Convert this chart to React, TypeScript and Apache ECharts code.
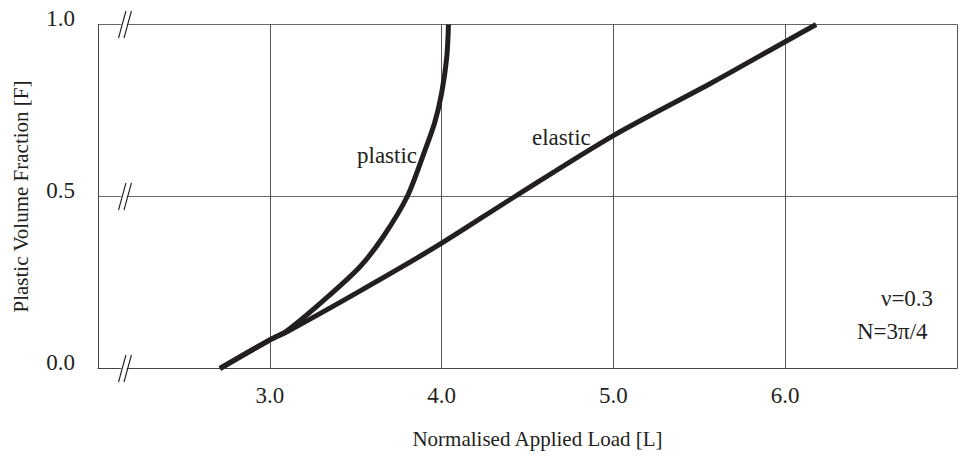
import React, { useEffect, useRef } from "react";
import * as echarts from "echarts";

const xTickValues = [3, 4, 5, 6];
const yTickValues = [0, 0.5, 1];
const elasticX = [2.71, 3.0, 3.1, 3.506, 3.967, 4.427, 5.0, 5.578, 6.0, 6.18];
const elasticY = [0, 0.083, 0.107, 0.22, 0.354, 0.5, 0.677, 0.832, 0.95, 1.0];
const plasticX = [2.71, 3.0, 3.1, 3.315, 3.525, 3.66, 3.8, 3.9, 3.96, 4.0, 4.03, 4.04];
const plasticY = [0, 0.083, 0.11, 0.199, 0.296, 0.383, 0.5, 0.63, 0.715, 0.8, 0.905, 1.0];
const xTitle = "Normalised Applied Load [L]";
const yTitle = "Plastic Volume Fraction [F]";
const plasticLabel = "plastic";
const elasticLabel = "elastic";
const noteLines = ["ν=0.3", "N=3π/4"];

const FONT = '"Liberation Serif", "Times New Roman", serif';
const TXT = "#231f20";
const LINE = "#231f20";

export default function App() {
  const ref = useRef<HTMLDivElement>(null);
  useEffect(() => {
    document.body.style.margin = "0";
    const chart = echarts.init(ref.current!, undefined, { renderer: "svg" });
    const elastic = elasticX.map((x, i) => [x, elasticY[i]]);
    const plastic = plasticX.map((x, i) => [x, plasticY[i]]);
    chart.setOption({
      animation: false,
      grid: { left: 98, right: -7, top: 24.5, bottom: 93.5, containLabel: false },
      xAxis: {
        type: "value",
        min: 2,
        max: 7,
        interval: 1,
        name: xTitle,
        nameLocation: "middle",
        nameGap: 60,
        nameTextStyle: { fontFamily: FONT, fontSize: 21, color: TXT, padding: [0, 0, 0, 20] },
        axisLine: { show: true, lineStyle: { color: "#444", width: 1 } },
        axisTick: { show: false },
        splitLine: { show: true, lineStyle: { color: "#555", width: 1 } },
        axisLabel: {
          margin: 15,
          fontFamily: FONT,
          fontSize: 23,
          color: TXT,
          formatter: (v: number) => (xTickValues.includes(v) ? v.toFixed(1) : ""),
        },
      },
      yAxis: {
        type: "value",
        min: 0,
        max: 1,
        interval: 0.5,
        name: yTitle,
        nameLocation: "middle",
        nameGap: 67,
        nameTextStyle: { fontFamily: FONT, fontSize: 21, color: TXT },
        axisLine: { show: true, lineStyle: { color: "#444", width: 1 } },
        axisTick: { show: false },
        splitLine: { show: true, lineStyle: { color: "#666", width: 1 } },
        axisLabel: {
          margin: 23,
          fontFamily: FONT,
          fontSize: 23,
          color: TXT,
          verticalAlign: "bottom",
          lineHeight: 13,
          formatter: (v: number) => (yTickValues.includes(v) ? v.toFixed(1) : ""),
        },
      },
      series: [
        {
          name: "elastic",
          type: "line",
          data: elastic,
          showSymbol: false,
          smooth: 0.3,
          lineStyle: { color: LINE, width: 5 },
          z: 3,
        },
        {
          name: "plastic",
          type: "line",
          data: plastic,
          showSymbol: false,
          smooth: 0.3,
          lineStyle: { color: LINE, width: 5 },
          z: 3,
        },
      ],
    });

    const breaks: any[] = [];
    yTickValues.forEach((yv) => {
      const c = chart.convertToPixel({ gridIndex: 0 }, [2.157, yv]) as number[];
      const cx = c[0];
      const cy = c[1];
      breaks.push({
        type: "polygon",
        shape: {
          points: [
            [cx - 6.5, cy + 3],
            [cx - 1, cy - 3],
            [cx + 4.5, cy - 3],
            [cx - 1, cy + 3],
          ],
        },
        style: { fill: "#fff" },
        z: 10,
      });
      [-2.75, 2.75].forEach((dx) => {
        breaks.push({
          type: "line",
          shape: { x1: cx + dx - 3.7, y1: cy + 13.5, x2: cx + dx + 3.7, y2: cy - 13.5 },
          style: { stroke: "#231f20", lineWidth: 1.1 },
          z: 11,
        });
      });
    });

    const textStyle = (t: string, x: number, y: number) => ({
      type: "text",
      x,
      y,
      style: {
        text: t,
        fontFamily: FONT,
        fontSize: 23,
        fill: TXT,
        align: "left",
        verticalAlign: "middle",
      },
      z: 12,
    });

    chart.setOption({
      graphic: [
        ...breaks,
        textStyle(plasticLabel, 357, 155),
        textStyle(elasticLabel, 532, 137),
        textStyle(noteLines[0], 881, 298),
        textStyle(noteLines[1], 857, 331),
      ],
    });

    return () => chart.dispose();
  }, []);
  return <div ref={ref} style={{ width: 960, height: 462 }} />;
}
